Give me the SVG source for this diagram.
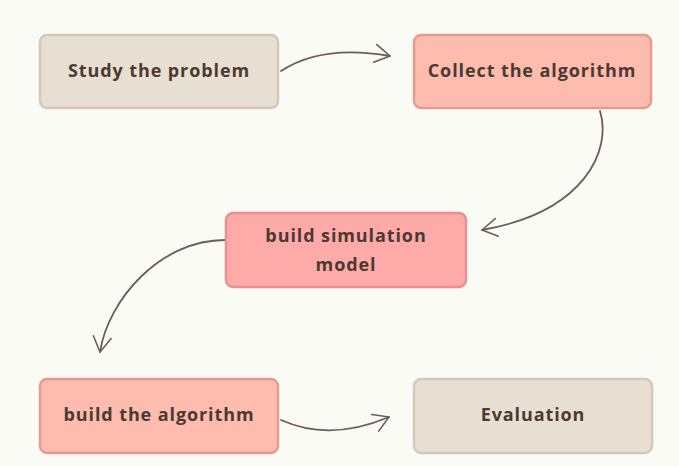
<svg xmlns="http://www.w3.org/2000/svg" width="679" height="466" viewBox="0 0 679 466">
  <style>
    .box { stroke-width: 2.5; }
    .tan { fill: #e8dfd3; stroke: #d3c8ba; }
    .salmon { fill: #fdbcae; stroke: #e39c8f; }
    .pink { fill: #fdaaa9; stroke: #ea9090; }
    .label { font-family: "Open Sans", "Lato", sans-serif; font-weight: 700; font-size: 18px; fill: #4b3a31; text-anchor: middle; letter-spacing: 0.9px; }
    .edge { fill: none; stroke: #6d5d58; stroke-width: 1.8; stroke-linecap: round; marker-end: url(#arrow); }
  </style>
  <defs>
    <marker id="arrow" markerUnits="userSpaceOnUse" markerWidth="30" markerHeight="30" viewBox="-20 -15 30 30" refX="0" refY="0" orient="auto">
      <path d="M-15,-9 L0,0 L-15,9" fill="none" stroke="#6d5d58" stroke-width="1.6" stroke-linecap="round" stroke-linejoin="round"/>
    </marker>
  </defs>
  <rect width="679" height="466" fill="#fbfbf5"/>

  <g id="connectors">
    <path class="edge" d="M281,71 Q322,44 390,56"/>
    <path class="edge" d="M600,111 C612,150 585,212 482,230"/>
    <path class="edge" d="M225,240 C160,240 108,300 100,352"/>
    <path class="edge" d="M281,420 Q330,442 389,417"/>
  </g>

  <g id="study">
    <rect class="box tan" x="40" y="35" width="238" height="73" rx="7"/>
    <text class="label" x="159" y="77">Study the problem</text>
  </g>
  <g id="collect">
    <rect class="box salmon" x="414" y="35" width="237" height="73" rx="7"/>
    <text class="label" x="532" y="77">Collect the algorithm</text>
  </g>
  <g id="simulation">
    <rect class="box pink" x="226" y="213" width="240" height="74" rx="7"/>
    <text class="label" x="346" y="242">build simulation</text>
    <text class="label" x="346" y="271">model</text>
  </g>
  <g id="build">
    <rect class="box salmon" x="40" y="379" width="238" height="74" rx="7"/>
    <text class="label" x="159" y="421">build the algorithm</text>
  </g>
  <g id="evaluation">
    <rect class="box tan" x="414" y="379" width="238" height="74" rx="7"/>
    <text class="label" x="533" y="421">Evaluation</text>
  </g>
</svg>
